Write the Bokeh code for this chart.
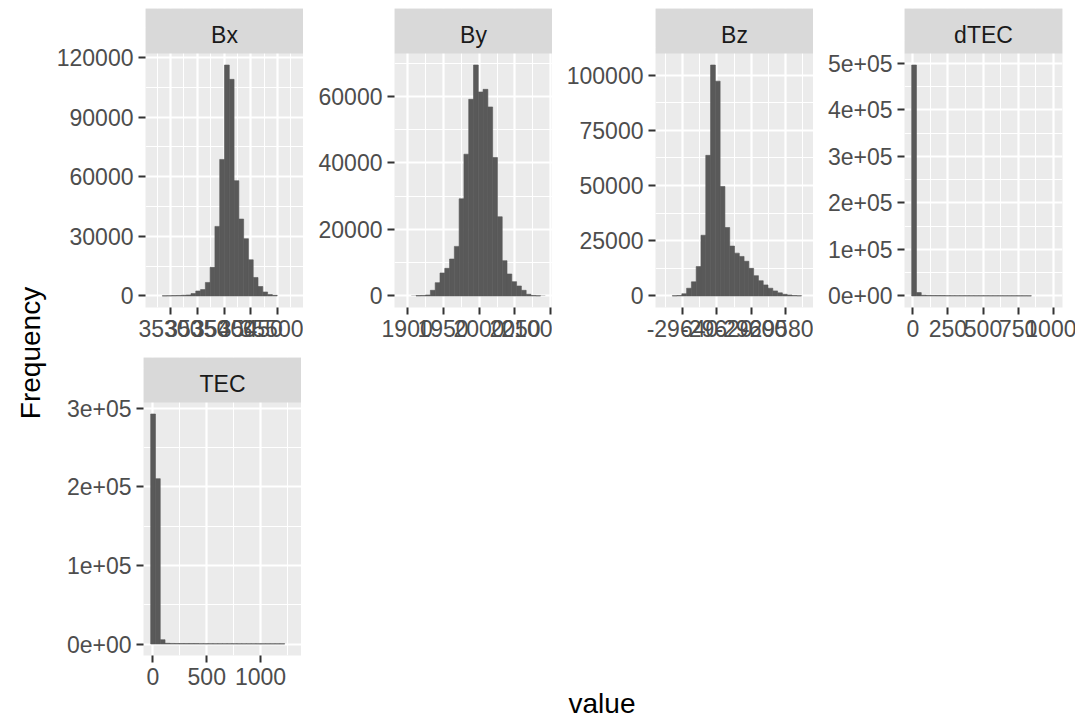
import math
from bokeh.plotting import figure
from bokeh.layouts import row, column
from bokeh.models import Range1d, FixedTicker, Label, ColumnDataSource
from bokeh.embed import file_html
from bokeh.resources import INLINE

# ---------------- data ----------------
PANEL_NAMES = ["Bx", "By", "Bz", "dTEC", "TEC"]

BX_BIN_START = 35266.8
BX_BIN_WIDTH = 8.94
BX_COUNTS = [3, 10, 60, 120, 180, 250, 350, 500, 1200, 2500,
             3200, 6800, 14400, 35000, 68700, 116200, 109000, 58000, 38700, 28800,
             18200, 9300, 4750, 2000, 700, 300, 40, 10, 3, 1]
BX_XTICKS = [35300, 35350, 35400, 35450, 35500]
BX_XLABELS = ["35300", "35350", "35400", "35450", "35500"]
BX_YTICKS = [0, 30000, 60000, 90000, 120000]
BX_YLABELS = ["0", "30000", "60000", "90000", "120000"]

BY_BIN_START = 1892.4
BY_BIN_WIDTH = 6.66
BY_COUNTS = [1, 5, 30, 100, 150, 300, 1700, 4000, 6900, 8300,
             11100, 14900, 29200, 42600, 59100, 69400, 61300, 62100, 56800, 41600,
             23800, 10600, 6600, 4300, 3000, 1700, 500, 150, 80, 30]
BY_XTICKS = [1900, 1950, 2000, 2050, 2100]
BY_XLABELS = ["1900", "1950", "2000", "2050", "2100"]
BY_YTICKS = [0, 20000, 40000, 60000]
BY_YLABELS = ["0", "20000", "40000", "60000"]

BZ_BIN_START = -29651.5
BZ_BIN_WIDTH = 2.785
BZ_COUNTS = [1, 5, 100, 200, 1000, 3500, 6400, 13300, 27500, 63700,
             104600, 97300, 49600, 31000, 22600, 19400, 17900, 15700, 12500, 9200,
             6900, 5000, 3500, 2300, 1400, 760, 450, 200, 100, 20]
BZ_XTICKS = [-29640, -29620, -29600, -29580]
BZ_XLABELS = ["-29640", "-29620", "-29600", "-29580"]
BZ_YTICKS = [0, 25000, 50000, 75000, 100000]
BZ_YLABELS = ["0", "25000", "50000", "75000", "100000"]

DTEC_BIN_START = -8.0
DTEC_BIN_WIDTH = 34.1
DTEC_COUNTS = [496400, 7200, 1500, 1100, 900, 800, 750, 700, 650, 600,
               600, 550, 550, 500, 500, 500, 450, 450, 450, 400,
               400, 400, 350, 350, 300, 0, 0, 0, 0, 1]
DTEC_XTICKS = [0, 250, 500, 750, 1000]
DTEC_XLABELS = ["0", "250", "500", "750", "1000"]
DTEC_YTICKS = [0, 100000, 200000, 300000, 400000, 500000]
DTEC_YLABELS = ["0e+00", "1e+05", "2e+05", "3e+05", "4e+05", "5e+05"]

TEC_BIN_START = -21.0
TEC_BIN_WIDTH = 44.5
TEC_COUNTS = [292700, 210400, 5500, 900, 700, 600, 550, 500, 500, 500,
              450, 450, 450, 400, 400, 400, 400, 400, 350, 350,
              350, 350, 300, 300, 300, 300, 300, 300, 0, 1]
TEC_XTICKS = [0, 500, 1000]
TEC_XLABELS = ["0", "500", "1000"]
TEC_YTICKS = [0, 100000, 200000, 300000]
TEC_YLABELS = ["0e+00", "1e+05", "2e+05", "3e+05"]

X_TITLE = "value"
Y_TITLE = "Frequency"

# ---------------- style ----------------
FONT = "Liberation Sans"
PANEL_BG = "#EBEBEB"
STRIP_BG = "#D9D9D9"
BAR_COLOR = "#595959"
TICK_COLOR = "#333333"
LABEL_COLOR = "#4D4D4D"
FRAME_W = 158
STRIP_H = 45


def minors(ticks):
    step = ticks[1] - ticks[0]
    m = [t + step / 2 for t in ticks[:-1]]
    return [ticks[0] - step / 2] + m + [ticks[-1] + step / 2]


def panel(name, start, width, counts, xt, xl, yt, yl, bl, fh, bt, bb, br):
    n = len(counts)
    lo, hi = start, start + width * n
    pad = 0.05 * (hi - lo)
    x_lo, x_hi = lo - pad, hi + pad
    ymax = max(counts)
    y_lo, y_hi = -0.05 * ymax, 1.05 * ymax
    per_px = (y_hi - y_lo) / fh
    y_strip = y_hi + STRIP_H * per_px

    src = ColumnDataSource(dict(
        left=[start + width * i for i in range(n)],
        right=[start + width * (i + 1) for i in range(n)],
        top=counts,
        la=[1.0 if c > 50 else 0.0 for c in counts],
    ))
    p = figure(frame_width=FRAME_W, frame_height=fh + STRIP_H,
               min_border_left=bl, min_border_right=br,
               min_border_top=bt, min_border_bottom=bb,
               x_range=Range1d(x_lo, x_hi), y_range=Range1d(y_lo, y_strip),
               title=None, toolbar_location=None, output_backend="svg")
    p.background_fill_color = PANEL_BG
    p.border_fill_color = "white"
    p.outline_line_color = None
    p.quad(left="left", right="right", top="top", bottom=0, source=src,
           fill_color=BAR_COLOR, line_color=BAR_COLOR, line_width=0.6,
           line_alpha="la")
    # facet strip
    p.quad(left=[x_lo], right=[x_hi], bottom=[y_hi], top=[y_strip],
           fill_color=STRIP_BG, line_color=None)
    p.add_layout(Label(x=(x_lo + x_hi) / 2, y=y_hi + 19 * per_px, text=name,
                       text_align="center", text_baseline="alphabetic",
                       text_font=FONT, text_font_size="23px",
                       text_color="#1A1A1A"))

    xtk = FixedTicker(ticks=xt, minor_ticks=minors(xt))
    ytk = FixedTicker(ticks=yt, minor_ticks=minors(yt))
    p.xaxis.ticker = xtk
    p.yaxis.ticker = ytk
    p.xgrid.ticker = xtk
    p.ygrid.ticker = ytk
    p.xaxis.major_label_overrides = dict(zip(xt, xl))
    p.yaxis.major_label_overrides = dict(zip(yt, yl))
    for g in (p.xgrid, p.ygrid):
        g.grid_line_color = "white"
        g.grid_line_width = 2.2
        g.minor_grid_line_color = "white"
        g.minor_grid_line_width = 1.1
    for ax in (p.xaxis, p.yaxis):
        ax.axis_line_color = None
        ax.minor_tick_line_color = None
        ax.major_tick_in = 0
        ax.major_tick_out = 7
        ax.major_tick_line_width = 2
        ax.major_tick_line_color = TICK_COLOR
        ax.major_label_text_font = FONT
        ax.major_label_text_font_size = "23px"
        ax.major_label_text_color = LABEL_COLOR
    p.xaxis.major_label_standoff = 5
    p.yaxis.major_label_standoff = 5
    return p


TOP = 8
ROW1_FH, ROW1_BB = 254, 50
ROW2_FH, ROW2_BB = 253, 66
RIGHT = 14

p_bx = panel("Bx", BX_BIN_START, BX_BIN_WIDTH, BX_COUNTS, BX_XTICKS, BX_XLABELS,
             BX_YTICKS, BX_YLABELS, 90, ROW1_FH, TOP, ROW1_BB, 0)
p_by = panel("By", BY_BIN_START, BY_BIN_WIDTH, BY_COUNTS, BY_XTICKS, BY_XLABELS,
             BY_YTICKS, BY_YLABELS, 91, ROW1_FH, TOP, ROW1_BB, 0)
p_bz = panel("Bz", BZ_BIN_START, BZ_BIN_WIDTH, BZ_COUNTS, BZ_XTICKS, BZ_XLABELS,
             BZ_YTICKS, BZ_YLABELS, 103, ROW1_FH, TOP, ROW1_BB, 0)
p_dt = panel("dTEC", DTEC_BIN_START, DTEC_BIN_WIDTH, DTEC_COUNTS, DTEC_XTICKS, DTEC_XLABELS,
             DTEC_YTICKS, DTEC_YLABELS, 91, ROW1_FH, TOP, ROW1_BB, RIGHT)
p_tec = panel("TEC", TEC_BIN_START, TEC_BIN_WIDTH, TEC_COUNTS, TEC_XTICKS, TEC_XLABELS,
              TEC_YTICKS, TEC_YLABELS, 90, ROW2_FH, 0, ROW2_BB, 0)

ROW2_H = STRIP_H + ROW2_FH + ROW2_BB
FILLER_W = 1074 - 301
filler = figure(width=FILLER_W, height=ROW2_H, min_border=0,
                x_range=Range1d(0, FILLER_W), y_range=Range1d(0, ROW2_H),
                x_axis_location=None, y_axis_location=None, title=None,
                toolbar_location=None, output_backend="svg")
filler.outline_line_color = None
filler.xgrid.visible = False
filler.ygrid.visible = False
filler.add_layout(Label(x=300.5, y=18, text=X_TITLE, text_align="center",
                        text_baseline="alphabetic", text_font=FONT,
                        text_font_size="28px", text_color="black"))

TOTAL_H = TOP + STRIP_H + ROW1_FH + ROW1_BB + ROW2_H
FREQ_W = 53
freq = figure(width=FREQ_W, height=TOTAL_H, min_border=0,
              x_range=Range1d(0, FREQ_W), y_range=Range1d(0, TOTAL_H),
              x_axis_location=None, y_axis_location=None, title=None,
              toolbar_location=None, output_backend="svg")
freq.outline_line_color = None
freq.xgrid.visible = False
freq.ygrid.visible = False
freq.add_layout(Label(x=30, y=TOTAL_H - 352.5, text=Y_TITLE, angle=math.pi / 2,
                      text_align="center", text_baseline="alphabetic",
                      text_font=FONT, text_font_size="28px", text_color="black"))

layout = row(column(freq),
             column(row(p_bx, p_by, p_bz, p_dt),
                    row(column(p_tec), column(filler))))

open("out.html", "w").write(file_html(layout, INLINE))
